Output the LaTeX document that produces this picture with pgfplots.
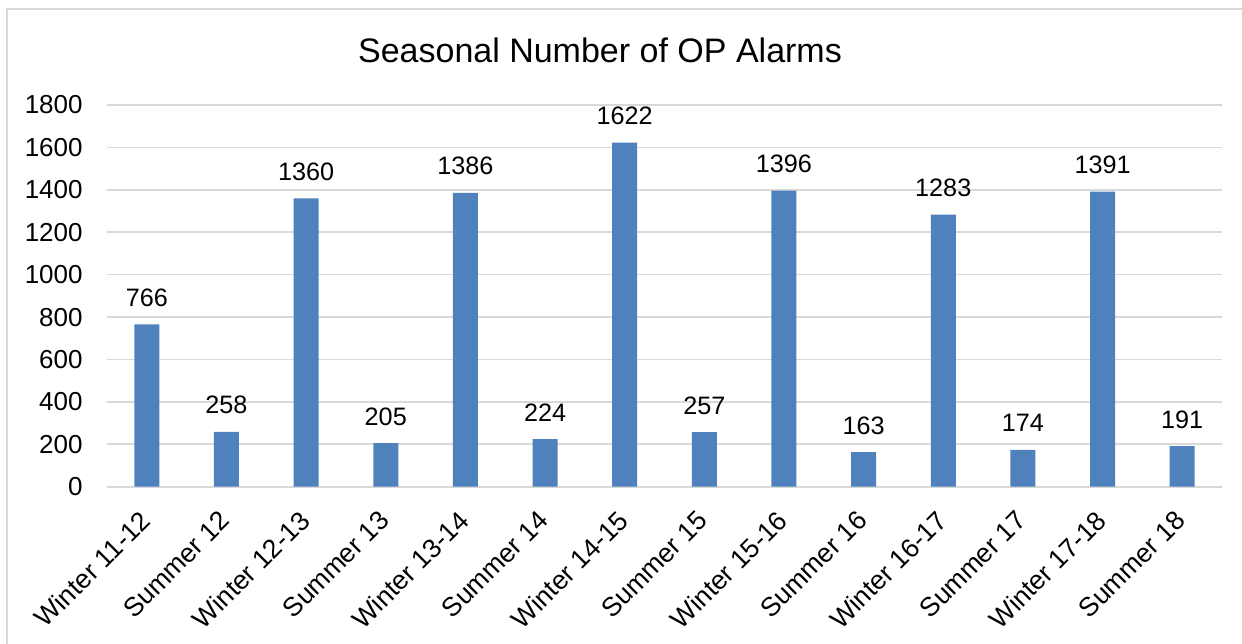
\documentclass[border=0pt]{standalone}
\usepackage{pgfplots}
\pgfplotsset{compat=1.18}
\usepackage{fontspec}
\setmainfont{Liberation Sans}
\definecolor{barblue}{RGB}{79,129,189}
\definecolor{gridgray}{RGB}{217,217,217}
\begin{document}
\begin{tikzpicture}
\useasboundingbox (-53.5pt,-78.15pt) rectangle (567.5pt,243.35pt);
\draw[gridgray, line width=1pt] (-50pt,-120pt) rectangle (620pt,238.85pt);
\begin{axis}[
  at={(0,0)}, anchor=south west,
  scale only axis,
  width=557.5pt, height=190.85pt,
  xmin=-0.5, xmax=13.5,
  ymin=0, ymax=1800,
  ytick={0,200,...,1800},
  xtick={0,...,13},
  xticklabels={Winter 11-12,Summer 12,Winter 12-13,Summer 13,Winter 13-14,Summer 14,Winter 14-15,Summer 15,Winter 15-16,Summer 16,Winter 16-17,Summer 17,Winter 17-18,Summer 18},
  xticklabel style={rotate=45, anchor=north east, inner sep=0pt, xshift=-10.6pt, yshift=-4.8pt, font=\fontsize{13.3}{16}\selectfont},
  yticklabel style={anchor=east, inner sep=0pt, xshift=-12pt, font=\fontsize{13}{15}\selectfont},
  /pgf/number format/assume math mode=true,
  /pgf/number format/1000 sep={},
  axis x line*=bottom,
  axis y line*=left,
  x axis line style={draw=gridgray, line width=1pt, -},
  y axis line style={draw=none},
  major tick length=0pt,
  ymajorgrids,
  grid style={gridgray, line width=0.8pt},
  ybar, bar width=12.5pt,
  nodes near coords,
  every node near coord/.append style={anchor=base, inner sep=0pt, yshift=9pt, font=\fontsize{12.6}{15}\selectfont, text=black},
  clip=false,
]
\addplot[fill=barblue, draw=none] coordinates {
(0,766) (1,258) (2,1360) (3,205) (4,1386) (5,224) (6,1622) (7,257) (8,1396) (9,163) (10,1283) (11,174) (12,1391) (13,191)
};
\end{axis}
\node[anchor=base, inner sep=0pt, font=\fontsize{17}{20}\selectfont] at (246.5pt,211.9pt) {Seasonal Number of OP Alarms};
\end{tikzpicture}
\end{document}
